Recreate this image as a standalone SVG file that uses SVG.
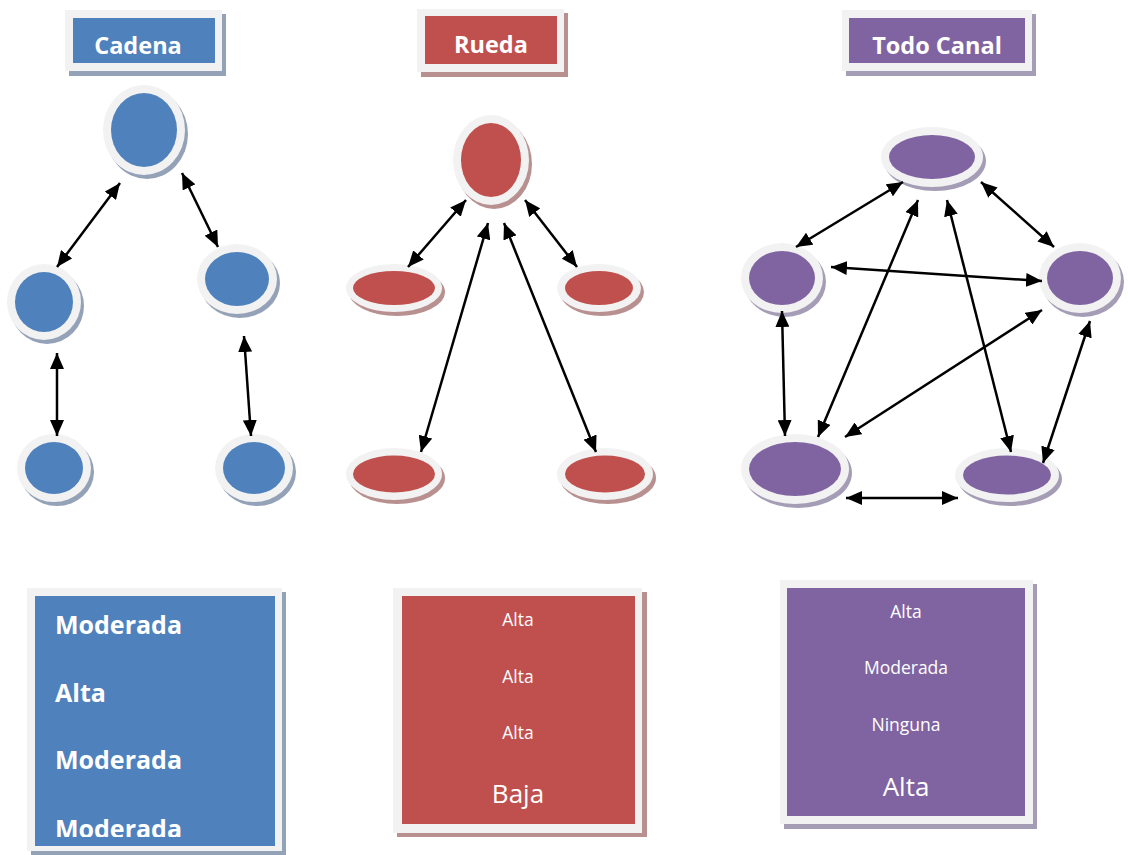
<svg xmlns="http://www.w3.org/2000/svg" width="1128" height="855" viewBox="0 0 1128 855">
  <style>
    .frame { fill: #f2f2f2; }
    .sh-blue { fill: #94a2b8; }
    .sh-red { fill: #b99090; }
    .sh-purple { fill: #a59db6; }
    .blue { fill: #4f81bd; }
    .red { fill: #c0504d; }
    .purple { fill: #8064a2; }
    .title { font-family: "Open Sans", "Liberation Sans", sans-serif; font-weight: bold; font-size: 23.5px; fill: #ffffff; text-anchor: middle; }
    .bold-item { font-family: "Open Sans", "Liberation Sans", sans-serif; font-weight: bold; font-size: 25px; fill: #ffffff; }
    .item { font-family: "Open Sans", "Liberation Sans", sans-serif; font-size: 17.5px; fill: #ffffff; text-anchor: middle; }
    .item-big { font-family: "Open Sans", "Liberation Sans", sans-serif; font-size: 26px; fill: #ffffff; text-anchor: middle; }
    .link { stroke: #000000; stroke-width: 2.5; fill: none; marker-start: url(#head); marker-end: url(#head); }
  </style>
  <defs>
    <marker id="head" viewBox="0 0 16 14" refX="16" refY="7" markerWidth="16" markerHeight="14" markerUnits="userSpaceOnUse" orient="auto-start-reverse">
      <path d="M0,0 L16,7 L0,14 Z" fill="#000000"/>
    </marker>
    <clipPath id="clip-cadena-box">
      <rect x="35" y="596" width="240" height="241"/>
    </clipPath>
  </defs>

  <rect width="1128" height="855" fill="#ffffff"/>

  <!-- Titles -->
  <g id="title-cadena">
    <rect class="sh-blue" x="69" y="14" width="157" height="62"/>
    <rect class="frame" x="65" y="10" width="157" height="61"/>
    <rect class="blue" x="73" y="18" width="142" height="45"/>
    <text class="title" x="138" y="54">Cadena</text>
  </g>
  <g id="title-rueda">
    <rect class="sh-red" x="421" y="13" width="147" height="64"/>
    <rect class="frame" x="417" y="9" width="147" height="63"/>
    <rect class="red" x="425" y="16" width="132" height="48"/>
    <text class="title" x="491" y="53">Rueda</text>
  </g>
  <g id="title-todo-canal">
    <rect class="sh-purple" x="846" y="14" width="190" height="62"/>
    <rect class="frame" x="842" y="10" width="190" height="61"/>
    <rect class="purple" x="849" y="18" width="176" height="45"/>
    <text class="title" x="937" y="54">Todo Canal</text>
  </g>

  <!-- Cadena nodes -->
  <g id="cadena-top">
    <ellipse class="sh-blue" cx="147" cy="134" rx="41" ry="45"/>
    <ellipse class="frame" cx="144" cy="130" rx="41" ry="45"/>
    <ellipse class="blue" cx="144" cy="130" rx="33" ry="37"/>
  </g>
  <g id="cadena-mid-left">
    <ellipse class="sh-blue" cx="47" cy="306" rx="37" ry="38"/>
    <ellipse class="frame" cx="44" cy="302" rx="37" ry="38"/>
    <ellipse class="blue" cx="44" cy="302" rx="29" ry="30"/>
  </g>
  <g id="cadena-mid-right">
    <ellipse class="sh-blue" cx="240" cy="283" rx="40" ry="35"/>
    <ellipse class="frame" cx="237" cy="279" rx="40" ry="35"/>
    <ellipse class="blue" cx="237" cy="279" rx="32" ry="27"/>
  </g>
  <g id="cadena-bottom-left">
    <ellipse class="sh-blue" cx="57" cy="472" rx="37" ry="34"/>
    <ellipse class="frame" cx="54" cy="468" rx="37" ry="34"/>
    <ellipse class="blue" cx="54" cy="468" rx="29" ry="26"/>
  </g>
  <g id="cadena-bottom-right">
    <ellipse class="sh-blue" cx="257" cy="472" rx="39" ry="34"/>
    <ellipse class="frame" cx="254" cy="468" rx="39" ry="34"/>
    <ellipse class="blue" cx="254" cy="468" rx="31" ry="26"/>
  </g>

  <!-- Rueda nodes -->
  <g id="rueda-top">
    <ellipse class="sh-red" cx="494" cy="164" rx="38" ry="45"/>
    <ellipse class="frame" cx="491" cy="160" rx="38" ry="45"/>
    <ellipse class="red" cx="491" cy="160" rx="30" ry="37"/>
  </g>
  <g id="rueda-mid-left">
    <ellipse class="sh-red" cx="397" cy="292" rx="48" ry="24"/>
    <ellipse class="frame" cx="394" cy="288" rx="48" ry="24"/>
    <ellipse class="red" cx="394" cy="288" rx="41" ry="17"/>
  </g>
  <g id="rueda-mid-right">
    <ellipse class="sh-red" cx="602" cy="292" rx="42" ry="24"/>
    <ellipse class="frame" cx="599" cy="288" rx="42" ry="24"/>
    <ellipse class="red" cx="599" cy="288" rx="34" ry="17"/>
  </g>
  <g id="rueda-bottom-left">
    <ellipse class="sh-red" cx="397" cy="478" rx="48" ry="26"/>
    <ellipse class="frame" cx="394" cy="474" rx="48" ry="26"/>
    <ellipse class="red" cx="394" cy="474" rx="41" ry="18.5"/>
  </g>
  <g id="rueda-bottom-right">
    <ellipse class="sh-red" cx="608" cy="478" rx="48" ry="26"/>
    <ellipse class="frame" cx="605" cy="474" rx="48" ry="26"/>
    <ellipse class="red" cx="605" cy="474" rx="40" ry="18.5"/>
  </g>

  <!-- Todo Canal nodes -->
  <g id="todo-top">
    <ellipse class="sh-purple" cx="935" cy="161" rx="51" ry="30"/>
    <ellipse class="frame" cx="932" cy="157" rx="51" ry="30"/>
    <ellipse class="purple" cx="932" cy="157" rx="43" ry="22"/>
  </g>
  <g id="todo-left">
    <ellipse class="sh-purple" cx="785" cy="282" rx="41" ry="35"/>
    <ellipse class="frame" cx="782" cy="278" rx="41" ry="35"/>
    <ellipse class="purple" cx="782" cy="278" rx="33" ry="27"/>
  </g>
  <g id="todo-right">
    <ellipse class="sh-purple" cx="1083" cy="282" rx="41" ry="35"/>
    <ellipse class="frame" cx="1080" cy="278" rx="41" ry="35"/>
    <ellipse class="purple" cx="1080" cy="278" rx="33" ry="27"/>
  </g>
  <g id="todo-bottom-left">
    <ellipse class="sh-purple" cx="798" cy="473" rx="54" ry="35"/>
    <ellipse class="frame" cx="795" cy="469" rx="54" ry="35"/>
    <ellipse class="purple" cx="795" cy="469" rx="46" ry="27"/>
  </g>
  <g id="todo-bottom-right">
    <ellipse class="sh-purple" cx="1010" cy="479" rx="52" ry="27"/>
    <ellipse class="frame" cx="1007" cy="475" rx="52" ry="27"/>
    <ellipse class="purple" cx="1007" cy="475" rx="44" ry="19.5"/>
  </g>

  <!-- Connectors -->
  <g id="connectors">
    <!-- Cadena -->
    <line class="link" x1="120" y1="183" x2="57" y2="267"/>
    <line class="link" x1="182" y1="173" x2="218" y2="247"/>
    <line class="link" x1="57" y1="353" x2="57" y2="436"/>
    <line class="link" x1="244" y1="336" x2="251" y2="436"/>
    <!-- Rueda -->
    <line class="link" x1="466" y1="200" x2="408" y2="267"/>
    <line class="link" x1="525" y1="200" x2="577" y2="267"/>
    <line class="link" x1="488" y1="223" x2="421" y2="452"/>
    <line class="link" x1="504" y1="223" x2="596" y2="452"/>
    <!-- Todo Canal -->
    <line class="link" x1="903" y1="182" x2="796" y2="247"/>
    <line class="link" x1="981" y1="182" x2="1054" y2="247"/>
    <line class="link" x1="831" y1="267" x2="1042" y2="281"/>
    <line class="link" x1="918" y1="200" x2="818" y2="437"/>
    <line class="link" x1="947" y1="200" x2="1011" y2="452"/>
    <line class="link" x1="1042" y1="310" x2="845" y2="437"/>
    <line class="link" x1="782" y1="311" x2="785" y2="436"/>
    <line class="link" x1="1090" y1="321" x2="1043" y2="463"/>
    <line class="link" x1="846" y1="498" x2="958" y2="498"/>
  </g>

  <!-- Summary boxes -->
  <g id="box-cadena">
    <rect class="sh-blue" x="31" y="592" width="255" height="263"/>
    <rect class="frame" x="27" y="588" width="255" height="263"/>
    <rect class="blue" x="35" y="596" width="240" height="250"/>
    <g clip-path="url(#clip-cadena-box)">
      <text class="bold-item" x="55" y="634">Moderada</text>
      <text class="bold-item" x="55" y="702">Alta</text>
      <text class="bold-item" x="55" y="769">Moderada</text>
      <text class="bold-item" x="55" y="838">Moderada</text>
    </g>
  </g>
  <g id="box-rueda">
    <rect class="sh-red" x="397" y="592" width="250" height="245"/>
    <rect class="frame" x="393" y="588" width="249" height="245"/>
    <rect class="red" x="402" y="596" width="233" height="228"/>
    <text class="item" x="518" y="626">Alta</text>
    <text class="item" x="518" y="683">Alta</text>
    <text class="item" x="518" y="739">Alta</text>
    <text class="item-big" x="518" y="803">Baja</text>
  </g>
  <g id="box-todo-canal">
    <rect class="sh-purple" x="784" y="584" width="253" height="245"/>
    <rect class="frame" x="780" y="580" width="253" height="244"/>
    <rect class="purple" x="787" y="588" width="238" height="228"/>
    <text class="item" x="906" y="618">Alta</text>
    <text class="item" x="906" y="674">Moderada</text>
    <text class="item" x="906" y="731">Ninguna</text>
    <text class="item-big" x="906" y="796">Alta</text>
  </g>
</svg>
